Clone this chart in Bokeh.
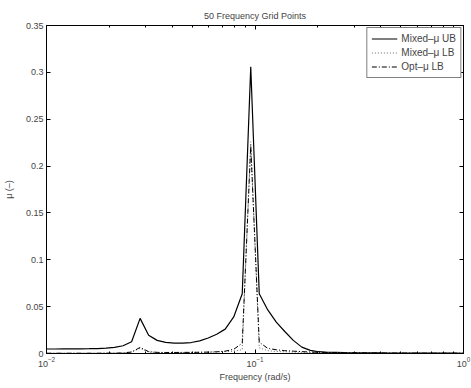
from bokeh.plotting import figure
from bokeh.models import (LogAxis, LinearAxis, FixedTicker, Legend, LegendItem, Range1d,
                          LogTickFormatter, CustomLabelingPolicy)
from bokeh.embed import file_html
from bokeh.resources import INLINE

# 50 frequency grid points (rad/s)
freq = [0.010000, 0.010985, 0.012068, 0.013257, 0.014563, 0.015999, 0.017575, 0.019307, 0.021210, 0.023300,
        0.025595, 0.028118, 0.030888, 0.033932, 0.037276, 0.040949, 0.044984, 0.049417, 0.054287, 0.059636,
        0.065513, 0.071969, 0.079060, 0.086851, 0.095410, 0.104811, 0.115140, 0.126486, 0.138950, 0.152642,
        0.167683, 0.184207, 0.202359, 0.222300, 0.244205, 0.268270, 0.294705, 0.323746, 0.355648, 0.390694,
        0.429193, 0.471487, 0.517947, 0.568987, 0.625055, 0.686649, 0.754312, 0.828643, 0.910298, 1.000000]

mixed_ub = [0.0048, 0.0048, 0.0049, 0.0049, 0.0050, 0.0051, 0.0053, 0.0057, 0.0065, 0.0083,
            0.0125, 0.0375, 0.0195, 0.0140, 0.0118, 0.0111, 0.0110, 0.0117, 0.0135, 0.0165,
            0.0205, 0.0260, 0.0390, 0.0637, 0.3060, 0.0637, 0.0465, 0.0334, 0.0235, 0.0140,
            0.0068, 0.0033, 0.0019, 0.0013, 0.0011, 0.0009, 0.0008, 0.0007, 0.0006, 0.0006,
            0.0005, 0.0005, 0.0004, 0.0004, 0.0004, 0.0003, 0.0003, 0.0003, 0.0003, 0.0002]

mixed_lb = [0.0003, 0.0003, 0.0003, 0.0003, 0.0003, 0.0003, 0.0003, 0.0004, 0.0005, 0.0008,
            0.0018, 0.0055, 0.0015, 0.0011, 0.0010, 0.0010, 0.0011, 0.0012, 0.0013, 0.0014,
            0.0016, 0.0020, 0.0025, 0.0040, 0.2260, 0.0060, 0.0030, 0.0022, 0.0018, 0.0015,
            0.0013, 0.0011, 0.0010, 0.0009, 0.0008, 0.0007, 0.0006, 0.0006, 0.0005, 0.0005,
            0.0004, 0.0004, 0.0004, 0.0003, 0.0003, 0.0003, 0.0003, 0.0003, 0.0002, 0.0002]

opt_lb = [0.0003, 0.0003, 0.0003, 0.0003, 0.0003, 0.0003, 0.0003, 0.0004, 0.0004, 0.0006,
          0.0015, 0.0065, 0.0020, 0.0012, 0.0011, 0.0011, 0.0012, 0.0012, 0.0013, 0.0015,
          0.0018, 0.0025, 0.0045, 0.0110, 0.2220, 0.0120, 0.0055, 0.0040, 0.0030, 0.0025,
          0.0020, 0.0016, 0.0013, 0.0011, 0.0010, 0.0009, 0.0008, 0.0007, 0.0006, 0.0006,
          0.0005, 0.0005, 0.0004, 0.0004, 0.0004, 0.0003, 0.0003, 0.0003, 0.0003, 0.0002]

x_major_ticks = [0.01, 0.1, 1.0]
x_minor_ticks = [0.02, 0.03, 0.04, 0.05, 0.06, 0.07, 0.08, 0.09,
                 0.2, 0.3, 0.4, 0.5, 0.6, 0.7, 0.8, 0.9]
y_ticks = [0, 0.05, 0.1, 0.15, 0.2, 0.25, 0.3, 0.35]
y_tick_labels = ["0", "0.05", "0.1", "0.15", "0.2", "0.25", "0.3", "0.35"]

FONT = "Liberation Sans"

p = figure(x_axis_type="log",
           x_range=Range1d(0.01, 1), y_range=Range1d(0, 0.35),
           output_backend="svg", toolbar_location=None,
           title="50 Frequency Grid Points",
           frame_width=417, frame_height=328,
           min_border_left=45, min_border_right=9, min_border_top=25, min_border_bottom=33)

p.title.text_font = FONT
p.title.text_font_size = "9px"
p.title.text_font_style = "normal"
p.title.align = "center"
p.title.standoff = 0

p.xgrid.visible = False
p.ygrid.visible = False
p.outline_line_color = "black"
p.outline_line_width = 1
p.background_fill_color = "white"
p.border_fill_color = "white"

xa = p.xaxis[0]
xa.axis_label = "Frequency (rad/s)"
xa.ticker = FixedTicker(ticks=x_major_ticks, minor_ticks=x_minor_ticks)
xa.formatter = LogTickFormatter()
ya = p.yaxis[0]
ya.axis_label = "μ (–)"
ya.ticker = FixedTicker(ticks=y_ticks)
ya.major_label_overrides = {t: l for t, l in zip(y_ticks, y_tick_labels)}

for ax in (xa, ya):
    ax.axis_label_text_font = FONT
    ax.axis_label_text_font_size = "9px"
    ax.axis_label_text_font_style = "normal"
    ax.major_label_text_font = FONT
    ax.major_label_text_font_size = "9px"
    ax.axis_label_standoff = 3
    ax.major_label_standoff = 3
    ax.major_tick_in = 4
    ax.major_tick_out = 0
    ax.minor_tick_in = 2
    ax.minor_tick_out = 0
    ax.axis_line_color = "black"
    ax.major_tick_line_color = "black"
    ax.minor_tick_line_color = "black"
ya.axis_label_standoff = 9
ya.minor_tick_line_color = None
xa.axis_label_standoff = 2

no_labels = CustomLabelingPolicy(code="for (const i of indices) indices.unset(i); return indices")
no_labels2 = CustomLabelingPolicy(code="for (const i of indices) indices.unset(i); return indices")

top = LogAxis(ticker=FixedTicker(ticks=x_major_ticks, minor_ticks=x_minor_ticks),
              major_label_policy=no_labels, major_label_text_font_size="2px",
              major_tick_in=4, major_tick_out=0,
              minor_tick_in=2, minor_tick_out=0, major_label_standoff=0)
right = LinearAxis(ticker=FixedTicker(ticks=y_ticks), major_label_policy=no_labels2,
                   major_label_text_font_size="2px",
                   major_tick_in=4, major_tick_out=0, minor_tick_line_color=None,
                   major_label_standoff=0)
p.add_layout(top, "above")
p.add_layout(right, "right")

r_ub = p.line(freq, mixed_ub, line_color="black", line_width=1.2)
r_mlb = p.line(freq, mixed_lb, line_color="#666666", line_width=1, line_dash="1 2")
r_olb = p.line(freq, opt_lb, line_color="black", line_width=1, line_dash="5 2 1 2")

legend = Legend(items=[LegendItem(label="Mixed–μ UB", renderers=[r_ub]),
                       LegendItem(label="Mixed–μ LB", renderers=[r_mlb]),
                       LegendItem(label="Opt–μ LB", renderers=[r_olb])],
                location="top_right", label_text_font=FONT, label_text_font_size="10px",
                glyph_width=26, glyph_height=13, label_height=13, spacing=1,
                padding=4, margin=2, border_line_color="black", border_line_width=1,
                label_standoff=4, background_fill_alpha=1)
p.add_layout(legend, "center")

open("out.html", "w").write(file_html(p, INLINE))
